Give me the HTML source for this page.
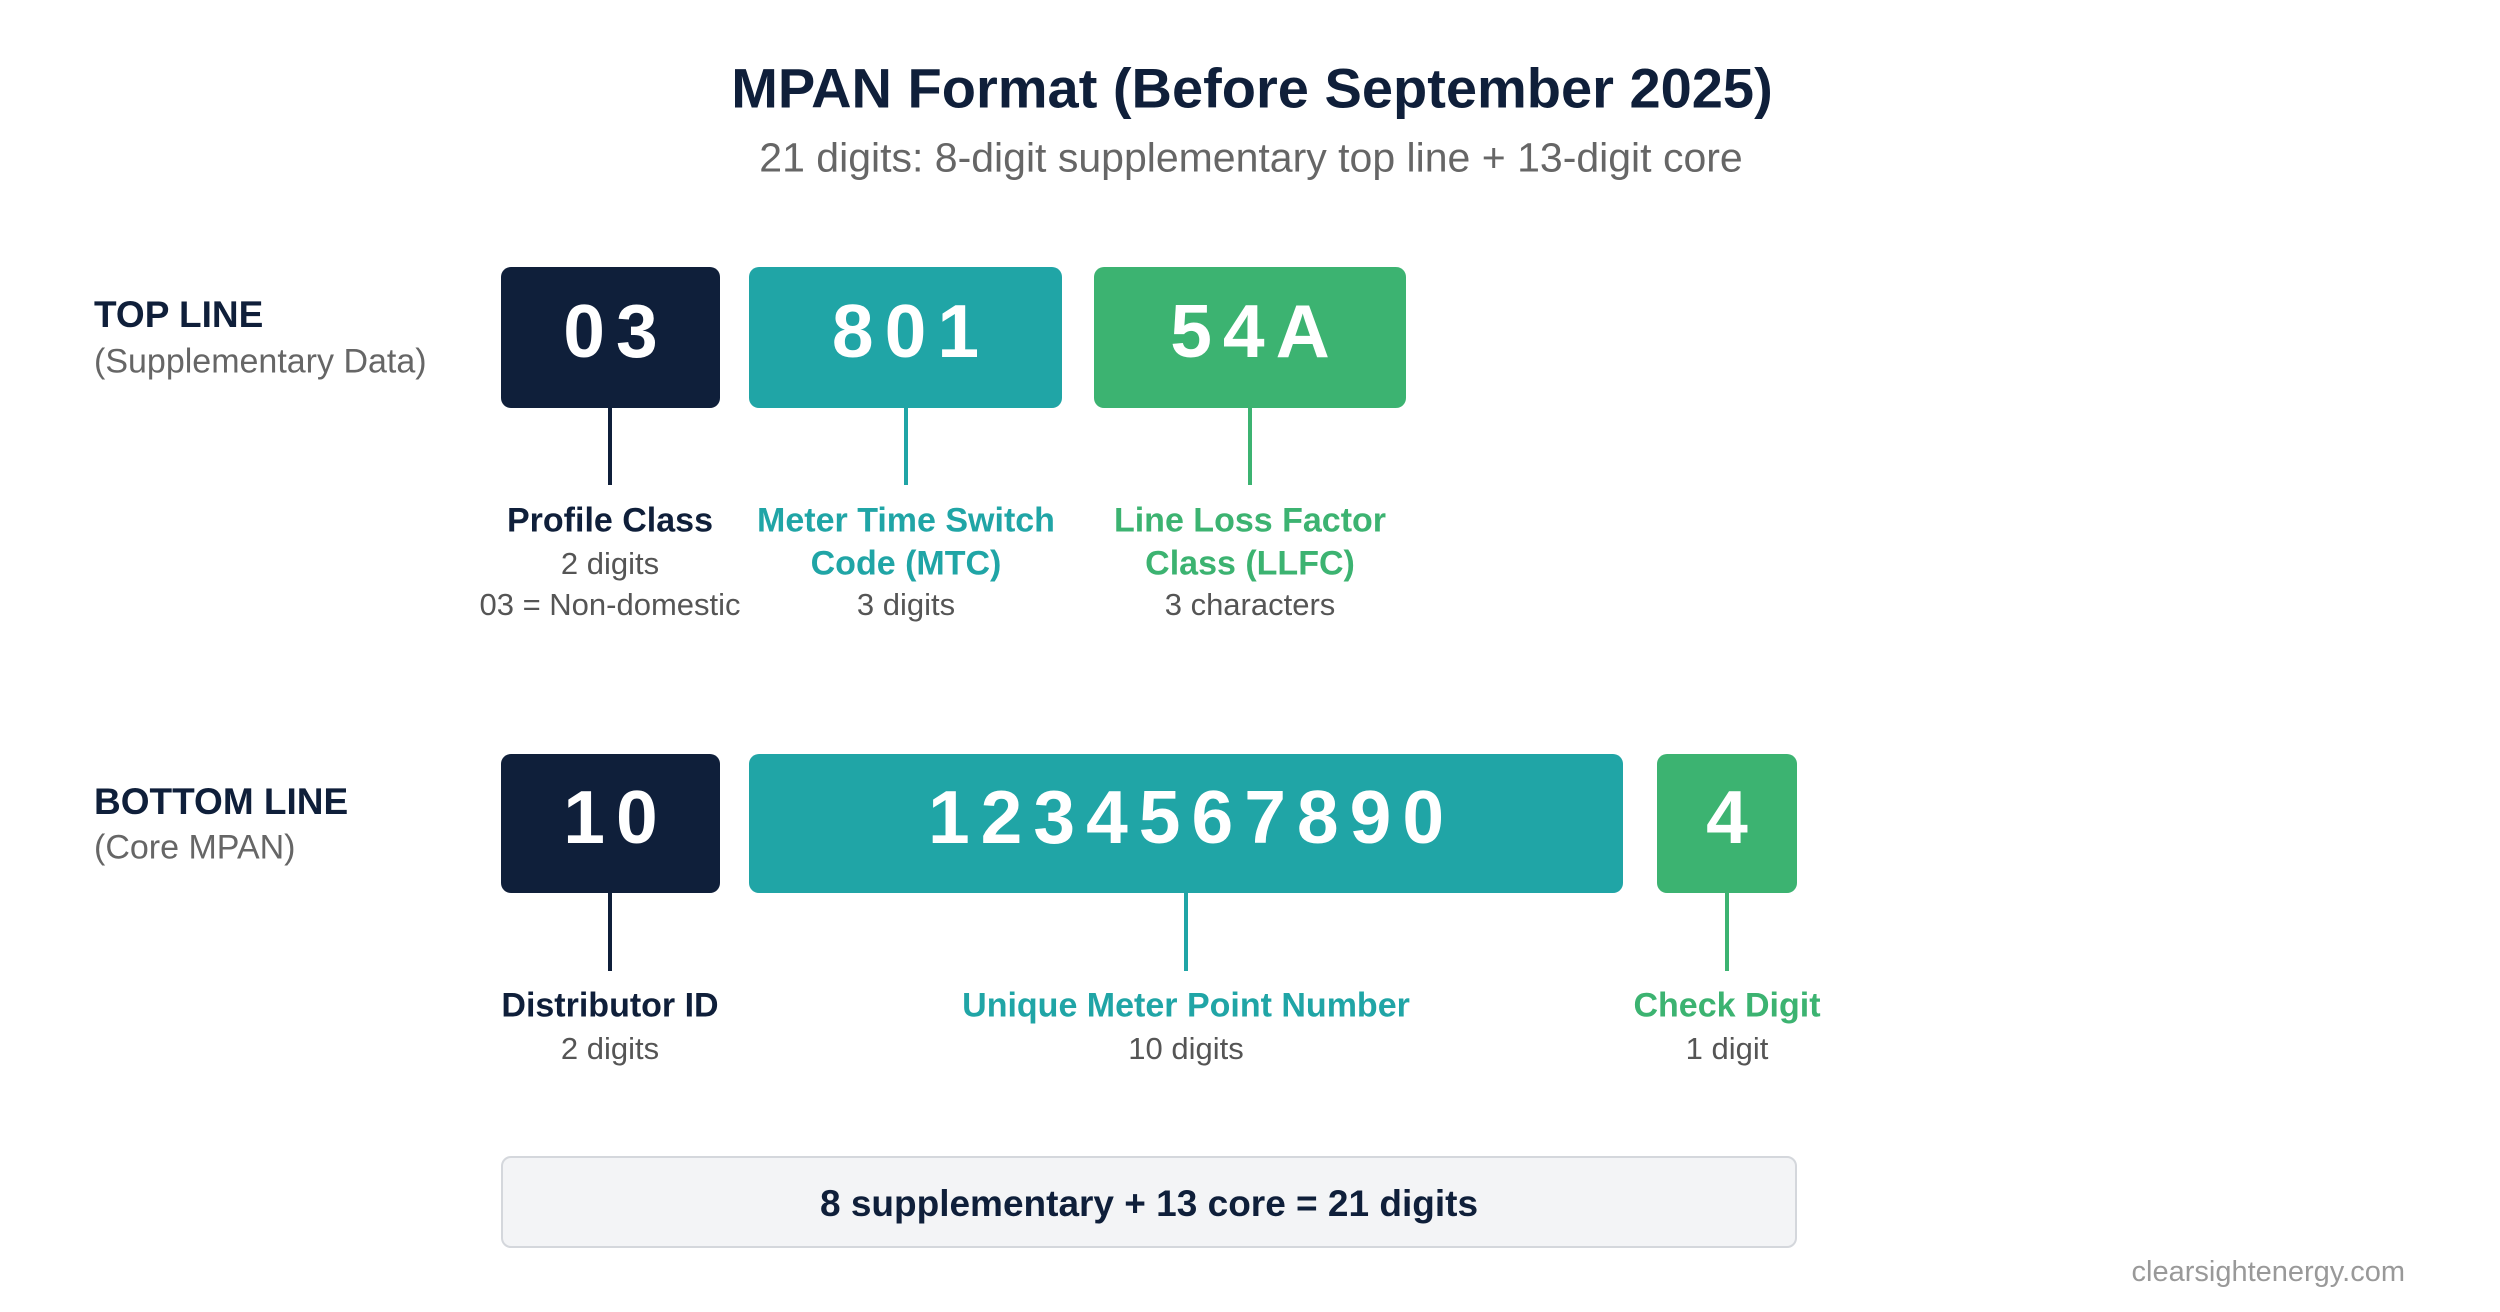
<!DOCTYPE html>
<html><head><meta charset="utf-8"><style>
html,body{margin:0;padding:0;background:#fff;}
body{width:2500px;height:1312px;position:relative;overflow:hidden;font-family:"Liberation Sans",Arial,sans-serif;}
.a{position:absolute;white-space:nowrap;}
.c{transform:translate(-50%,-50%);text-align:center;}
.l{transform:translateY(-50%);}
.box{position:absolute;border-radius:10px;color:#fff;font-weight:bold;font-size:75px;display:flex;align-items:center;justify-content:center;letter-spacing:11px;box-sizing:border-box;padding-bottom:14px;}
.box span{margin-right:-11px;}
.ln{position:absolute;width:4px;}
.t{font-weight:bold;font-size:34px;}
.s{font-size:31px;color:#555;}
</style></head><body>
<div class="a c" style="left:1252px;top:88px;font-size:56px;font-weight:bold;color:#0f1f3a;">MPAN Format (Before September 2025)</div>
<div class="a c" style="left:1251px;top:158px;font-size:41px;color:#666;">21 digits: 8-digit supplementary top line + 13-digit core</div>

<div class="a l" style="left:94px;top:315px;font-size:37px;font-weight:bold;color:#0f1f3a;">TOP LINE</div>
<div class="a l" style="left:94px;top:362px;font-size:34px;color:#666;">(Supplementary Data)</div>
<div class="a l" style="left:94px;top:802px;font-size:37px;font-weight:bold;color:#0f1f3a;">BOTTOM LINE</div>
<div class="a l" style="left:94px;top:848px;font-size:34px;color:#666;">(Core MPAN)</div>

<div class="box" style="left:501px;top:267px;width:219px;height:141px;background:#0f1f3a;"><span>03</span></div>
<div class="box" style="left:749px;top:267px;width:313px;height:141px;background:#20a5a6;"><span>801</span></div>
<div class="box" style="left:1094px;top:267px;width:312px;height:141px;background:#3cb371;"><span>54A</span></div>
<div class="ln" style="left:608px;top:408px;height:77px;background:#0f1f3a;"></div>
<div class="ln" style="left:904px;top:408px;height:77px;background:#20a5a6;"></div>
<div class="ln" style="left:1248px;top:408px;height:77px;background:#3cb371;"></div>

<div class="a c t" style="left:610px;top:521px;color:#0f1f3a;">Profile Class</div>
<div class="a c s" style="left:610px;top:564px;">2 digits</div>
<div class="a c s" style="left:610px;top:605px;">03 = Non-domestic</div>
<div class="a c t" style="left:906px;top:521px;color:#20a5a6;">Meter Time Switch</div>
<div class="a c t" style="left:906px;top:564px;color:#20a5a6;">Code (MTC)</div>
<div class="a c s" style="left:906px;top:605px;">3 digits</div>
<div class="a c t" style="left:1250px;top:521px;color:#3cb371;">Line Loss Factor</div>
<div class="a c t" style="left:1250px;top:564px;color:#3cb371;">Class (LLFC)</div>
<div class="a c s" style="left:1250px;top:605px;">3 characters</div>

<div class="box" style="left:501px;top:754px;width:219px;height:139px;background:#0f1f3a;"><span>10</span></div>
<div class="box" style="left:749px;top:754px;width:874px;height:139px;background:#20a5a6;"><span>1234567890</span></div>
<div class="box" style="left:1657px;top:754px;width:140px;height:139px;background:#3cb371;"><span>4</span></div>
<div class="ln" style="left:608px;top:893px;height:78px;background:#0f1f3a;"></div>
<div class="ln" style="left:1184px;top:893px;height:78px;background:#20a5a6;"></div>
<div class="ln" style="left:1725px;top:893px;height:78px;background:#3cb371;"></div>

<div class="a c t" style="left:610px;top:1006px;color:#0f1f3a;">Distributor ID</div>
<div class="a c s" style="left:610px;top:1049px;">2 digits</div>
<div class="a c t" style="left:1186px;top:1006px;color:#20a5a6;">Unique Meter Point Number</div>
<div class="a c s" style="left:1186px;top:1049px;">10 digits</div>
<div class="a c t" style="left:1727px;top:1006px;color:#3cb371;">Check Digit</div>
<div class="a c s" style="left:1727px;top:1049px;">1 digit</div>

<div class="a" style="left:501px;top:1156px;width:1292px;height:88px;background:#f3f4f6;border:2px solid #d4d7dc;border-radius:10px;"></div>
<div class="a c" style="left:1149px;top:1204px;font-size:37px;font-weight:bold;color:#0f1f3a;">8 supplementary + 13 core = 21 digits</div>

<div class="a" style="right:95px;top:1256px;font-size:29px;color:#999;">clearsightenergy.com</div>
</body></html>
